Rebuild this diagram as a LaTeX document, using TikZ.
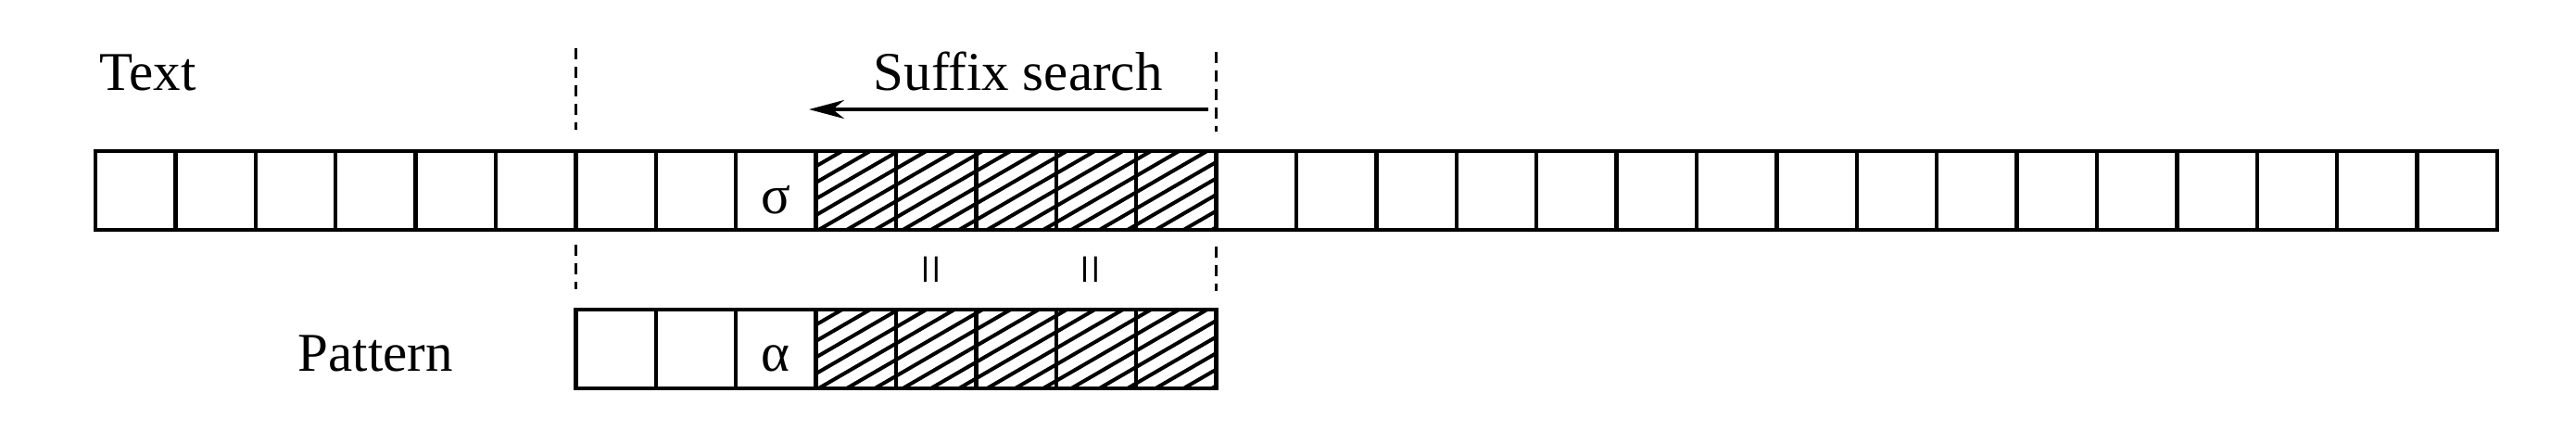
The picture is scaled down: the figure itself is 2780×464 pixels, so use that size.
\documentclass[tikz,border=0pt]{standalone}
\usepackage{fontspec}
\setmainfont{Liberation Serif}
\usetikzlibrary{arrows.meta}
\begin{document}
\begin{tikzpicture}[x=0.25pt,y=-0.25pt,
  cell/.style={draw, line width=1.1pt, minimum width=21.6pt, minimum height=21.3pt, inner sep=0pt, outer sep=0pt, anchor=north west},
  lbl/.style={inner sep=0pt, font=\fontsize{14.75}{17}\selectfont},
  guide/.style={line width=0.9pt, dash pattern=on 3pt off 2pt},
  hatch/.style={line width=1pt},
  searcharrow/.style={line width=1pt, -{Stealth[length=9.5pt,width=5pt]}},
]
\useasboundingbox (0,0) rectangle (2780,464);
\def\cw{86.4}
% text row
\foreach \i in {0,...,29} { \node[cell] (t\i) at ({103+\i*\cw},163) {}; }
% pattern row
\foreach \i in {0,...,7} { \node[cell] (p\i) at ({621.4+\i*\cw},334) {}; }
% hatching
\begin{scope}
  \clip (t9.north west) rectangle (t13.south east);
  \foreach \k in {-6,...,16} { \draw[hatch] ({880+\k*30.3},250) -- ++(150,-87); }
\end{scope}
\begin{scope}
  \clip (p3.north west) rectangle (p7.south east);
  \foreach \k in {-6,...,16} { \draw[hatch] ({880+\k*30.3},421) -- ++(150,-87); }
\end{scope}
% labels
\node[lbl, anchor=base west] (ltext) at (107,97) {Text};
\node[lbl, anchor=base west] (lpat) at (321,400) {Pattern};
\node[lbl, anchor=base west] (lsuf) at (942,97) {Suffix search};
\node[lbl, anchor=base] (sigma) at (837,230) {σ};
\node[lbl, anchor=base] (alpha) at (837,400) {α};
\node[lbl, rotate=90] (eq1) at (1011,291) {=};
\node[lbl, rotate=90] (eq2) at (1183,291) {=};
% dashed guides
\coordinate (gl1) at (621.4,52);  \coordinate (gl2) at (621.4,140);
\coordinate (gl3) at (621.4,264); \coordinate (gl4) at (621.4,312);
\coordinate (gr1) at (1312.6,56);  \coordinate (gr2) at (1312.6,142);
\coordinate (gr3) at (1312.6,266); \coordinate (gr4) at (1312.6,314);
\draw[guide] (gl1) -- (gl2);
\draw[guide] (gl3) -- (gl4);
\draw[guide] (gr1) -- (gr2);
\draw[guide] (gr3) -- (gr4);
% arrow
\coordinate (as) at (1304,118);
\coordinate (ae) at (873,118);
\draw[searcharrow] (as) -- (ae);
\end{tikzpicture}
\end{document}
